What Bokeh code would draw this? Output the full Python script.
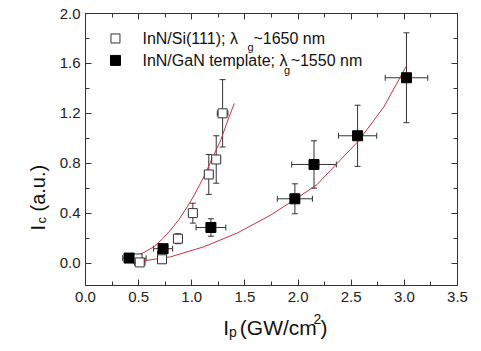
import math
from bokeh.plotting import figure
from bokeh.layouts import row, column
from bokeh.models import (ColumnDataSource, Whisker, TeeHead, Label, FixedTicker,
                          LinearAxis, Range1d, PrintfTickFormatter)
from bokeh.embed import file_html
from bokeh.resources import INLINE

# ---- data: InN/Si(111) (open squares)
si_x = [0.49, 0.51, 0.72, 0.72, 0.87, 1.01, 1.16, 1.23, 1.29]
si_y = [0.037, 0.005, 0.06, 0.03, 0.195, 0.40, 0.71, 0.83, 1.20]
si_xerr = [0.08, 0.05, 0.04, 0.04, 0.02, 0.04, 0.04, 0.04, 0.05]
si_yerr = [0.02, 0.02, 0.03, 0.03, 0.04, 0.08, 0.16, 0.19, 0.27]

# ---- data: InN/GaN template (filled squares)
gan_x = [0.41, 0.73, 1.18, 1.97, 2.15, 2.56, 3.02]
gan_y = [0.04, 0.115, 0.285, 0.515, 0.79, 1.02, 1.485]
gan_xerr = [0.06, 0.09, 0.14, 0.165, 0.21, 0.18, 0.20]
gan_yerr = [0.02, 0.03, 0.07, 0.12, 0.19, 0.245, 0.36]

# ---- fit curves
fit_si_x = [0.42, 0.455, 0.55, 0.643, 0.72, 0.80, 0.88, 0.957, 1.02, 1.082, 1.13, 1.176, 1.22, 1.27, 1.333, 1.40]
fit_si_y = [0.03, 0.045, 0.085, 0.13, 0.19, 0.264, 0.35, 0.45, 0.54, 0.64, 0.72, 0.81, 0.89, 0.98, 1.13, 1.28]
fit_gan_x = [0.45, 0.80, 1.113, 1.427, 1.74, 1.99, 2.18, 2.336, 2.57, 2.806, 3.02]
fit_gan_y = [0.005, 0.05, 0.13, 0.24, 0.384, 0.52, 0.63, 0.77, 0.98, 1.25, 1.58]

# ---- ticks
x_major = [0.0, 0.5, 1.0, 1.5, 2.0, 2.5, 3.0, 3.5]
x_minor = [0.25, 0.75, 1.25, 1.75, 2.25, 2.75, 3.25]
y_major = [0.0, 0.4, 0.8, 1.2, 1.6, 2.0]
y_minor = [0.2, 0.6, 1.0, 1.4, 1.8]

FONT = "Liberation Sans"
DARK = "#333333"
RED = "#c83246"
TXT = "#111111"

LEFT_W = 52          # width of the y-label panel
MAIN_H = 307         # height of the main plot canvas
p = figure(width=481 - LEFT_W, height=MAIN_H, output_backend="svg", toolbar_location=None,
           x_range=Range1d(0, 3.5), y_range=Range1d(-0.18, 2.0),
           min_border_left=85 - LEFT_W, min_border_right=24, min_border_top=13,
           min_border_bottom=MAIN_H - 285, x_axis_location=None, y_axis_location=None)
p.grid.visible = False
p.outline_line_color = DARK
p.outline_line_width = 1
p.background_fill_color = "white"
p.border_fill_color = "white"


def make_axis(ticks, minor, labels=True):
    ax = LinearAxis(ticker=FixedTicker(ticks=ticks, minor_ticks=minor),
                    formatter=PrintfTickFormatter(format="%.1f"))
    ax.major_tick_in = 6
    ax.major_tick_out = 0
    ax.minor_tick_in = 4
    ax.minor_tick_out = 0
    ax.axis_line_color = DARK
    ax.major_tick_line_color = DARK
    ax.minor_tick_line_color = DARK
    ax.major_label_text_font = FONT
    ax.major_label_text_font_size = "15px"
    ax.major_label_text_color = "#222222"
    if not labels:
        ax.major_label_overrides = {t: "" for t in ticks}
        ax.major_label_standoff = 0
    return ax

bx = make_axis(x_major, x_minor)
bx.major_label_standoff = 6
p.add_layout(bx, "below")
ly = make_axis(y_major, y_minor)
ly.major_label_standoff = 5
p.add_layout(ly, "left")
p.add_layout(make_axis(x_major, x_minor, labels=False), "above")
p.add_layout(make_axis(y_major, y_minor, labels=False), "right")

# ---- fit curves
p.line(fit_si_x, fit_si_y, line_color=RED, line_width=1)
p.line(fit_gan_x, fit_gan_y, line_color=RED, line_width=1)


def err_source(xs, ys, xe, ye):
    return ColumnDataSource(dict(
        x=xs, y=ys,
        xlo=[a - b for a, b in zip(xs, xe)], xhi=[a + b for a, b in zip(xs, xe)],
        ylo=[a - b for a, b in zip(ys, ye)], yhi=[a + b for a, b in zip(ys, ye)]))


def add_err(src):
    for dim, base, lo, hi in (("height", "x", "ylo", "yhi"), ("width", "y", "xlo", "xhi")):
        w = Whisker(source=src, base=base, lower=lo, upper=hi, dimension=dim,
                    line_color=DARK, line_width=1,
                    lower_head=TeeHead(size=6, line_color=DARK, line_width=1),
                    upper_head=TeeHead(size=6, line_color=DARK, line_width=1))
        p.add_layout(w)

src_si = err_source(si_x, si_y, si_xerr, si_yerr)
src_gan = err_source(gan_x, gan_y, gan_xerr, gan_yerr)
add_err(src_si)
add_err(src_gan)

p.scatter("x", "y", source=src_si, marker="square", size=9,
          fill_color="white", line_color=DARK, line_width=1)
p.scatter("x", "y", source=src_gan, marker="square", size=10,
          fill_color="black", line_color="black", line_width=1)

# ---- legend (manual, to allow the subscript g)
leg_x = [0.282, 0.282]
leg_y = [1.80, 1.624]
p.scatter([leg_x[0]], [leg_y[0]], marker="square", size=9, fill_color="white",
          line_color=DARK, line_width=1)
p.scatter([leg_x[1]], [leg_y[1]], marker="square", size=10, fill_color="black",
          line_color="black")


def lab(fig, x, y, text, size, baseline="middle", angle=0.0):
    fig.add_layout(Label(x=x, y=y, text=text, text_font=FONT, text_font_size=size,
                         text_color=TXT, text_align="left", text_baseline=baseline,
                         angle=angle))

lab(p, 0.536, 1.80, "InN/Si(111); λ", "16px")
lab(p, 1.524, 1.728, "g", "11px")
lab(p, 1.58, 1.80, "~1650 nm", "16px")
lab(p, 0.536, 1.624, "InN/GaN template; λ", "16px")
lab(p, 1.868, 1.544, "g", "11px")
lab(p, 1.93, 1.624, "~1550 nm", "16px")


def blank(w, h, xr, yr):
    f = figure(width=w, height=h, output_backend="svg", toolbar_location=None,
               x_range=xr, y_range=yr, min_border=0,
               x_axis_location=None, y_axis_location=None)
    f.grid.visible = False
    f.outline_line_color = None
    f.border_fill_color = "white"
    f.background_fill_color = "white"
    return f

# ---- y axis label panel (page pixel coordinates, y downward)
yfig = blank(LEFT_W, 351, Range1d(0, LEFT_W), Range1d(351, 0))
lab(yfig, 37, 230, "I", "20px", baseline="alphabetic", angle=math.pi / 2)
lab(yfig, 40.5, 223, "c", "13px", baseline="alphabetic", angle=math.pi / 2)
lab(yfig, 37, 211, "(a.u.)", "20px", baseline="alphabetic", angle=math.pi / 2)

# ---- x axis label panel
xfig = blank(481 - LEFT_W, 351 - MAIN_H, Range1d(LEFT_W, 481), Range1d(351, MAIN_H))
lab(xfig, 211, 327, "I", "21px", baseline="alphabetic")
lab(xfig, 217.5, 331, "p", "14px", baseline="alphabetic")
lab(xfig, 230, 327, "(GW/cm", "21px", baseline="alphabetic")
lab(xfig, 315, 318, "2", "14px", baseline="alphabetic")
lab(xfig, 323, 327, ")", "21px", baseline="alphabetic")

layout = row(yfig, column(p, xfig))
open("out.html", "w").write(file_html(layout, INLINE))
